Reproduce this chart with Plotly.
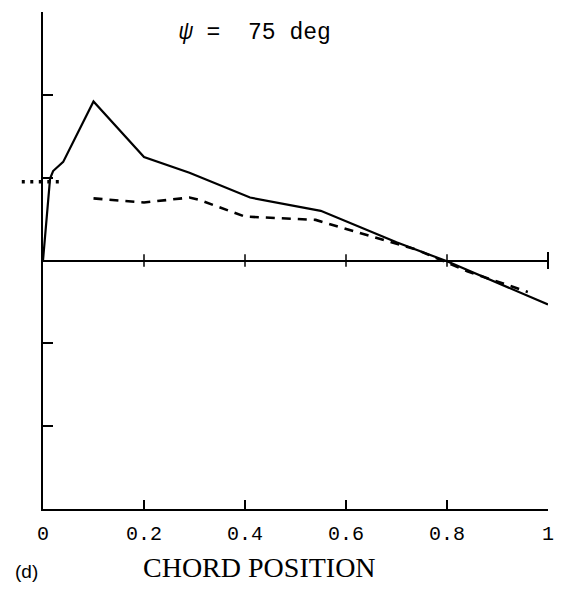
import plotly.graph_objects as go

# data
solid_x = [0.0, 0.014, 0.02, 0.04, 0.1, 0.2, 0.29, 0.41, 0.55, 0.7, 0.8, 1.0]
solid_y = [0.0, 0.99, 1.08, 1.19, 1.92, 1.25, 1.06, 0.76, 0.60, 0.22, -0.01, -0.53]

dashed_x = [0.1, 0.2, 0.29, 0.31, 0.40, 0.54, 0.74, 0.84, 0.96]
dashed_y = [0.75, 0.70, 0.76, 0.73, 0.53, 0.49, 0.13, -0.13, -0.38]

dot_x = [-0.042, 0.034]   # extent of the dotted reference mark
dot_y = 0.95

zero_tick_x = [0.2, 0.4, 0.6, 0.8]
zero_end_x = [1.0]

x_tickvals = [0, 0.2, 0.4, 0.6, 0.8, 1.0]
x_ticktext = ["0", "0.2", "0.4", "0.6", "0.8", "1"]
y_tickvals = [-2, -1, 1, 2, 3]

fig = go.Figure()

fig.add_trace(go.Scatter(x=solid_x, y=solid_y, mode="lines",
                         line=dict(color="black", width=2.2), showlegend=False))
fig.add_trace(go.Scatter(x=dashed_x, y=dashed_y, mode="lines",
                         line=dict(color="black", width=2.6, dash="9px,7px"),
                         showlegend=False))
fig.add_trace(go.Scatter(x=zero_tick_x, y=[0] * len(zero_tick_x), mode="markers",
                         marker=dict(symbol="line-ns-open", size=9, color="black",
                                     line=dict(color="black", width=1.5)),
                         showlegend=False))
fig.add_trace(go.Scatter(x=zero_end_x, y=[0], mode="markers", cliponaxis=False,
                         marker=dict(symbol="line-ns-open", size=12, color="black",
                                     line=dict(color="black", width=2)),
                         showlegend=False))

# x axis range equals [0, 1] over the full domain, so paper x == data x
fig.add_shape(type="line", xref="paper", yref="y",
              x0=dot_x[0], x1=dot_x[1], y0=dot_y, y1=dot_y,
              line=dict(color="black", width=3.5, dash="3px,5.5px"))

fig.update_layout(
    width=558, height=585,
    margin=dict(l=35, r=18, t=4, b=84),
    paper_bgcolor="white", plot_bgcolor="white",
    xaxis=dict(range=[0, 1], showgrid=False, zeroline=False,
               showline=True, linecolor="black", linewidth=2,
               ticks="inside", ticklen=9, tickwidth=1.5, tickcolor="black",
               tickvals=x_tickvals, ticktext=x_ticktext,
               tickfont=dict(family="Liberation Mono", size=20, color="black"),
               ticklabelstandoff=5),
    yaxis=dict(range=[-3, 3], showgrid=False, zeroline=True,
               zerolinecolor="black", zerolinewidth=1.6,
               showline=True, linecolor="black", linewidth=2,
               ticks="inside", ticklen=10, tickwidth=1.8, tickcolor="black",
               tickvals=y_tickvals, showticklabels=False),
    annotations=[
        dict(x=0.42, y=2.75, xref="x", yref="y", showarrow=False,
             xanchor="center", yanchor="middle",
             text="<i>ψ</i> =  75 deg",
             font=dict(family="Liberation Mono", size=23, color="black")),
        dict(x=0.428, y=-0.117, xref="paper", yref="paper", showarrow=False,
             xanchor="center", yanchor="middle",
             text="CHORD POSITION",
             font=dict(family="Liberation Serif", size=28, color="black")),
        dict(x=-0.032, y=-0.125, xref="paper", yref="paper", showarrow=False,
             xanchor="center", yanchor="middle",
             text="(d)",
             font=dict(family="Liberation Sans", size=19, color="black")),
    ],
)

fig.write_html("out.html")
